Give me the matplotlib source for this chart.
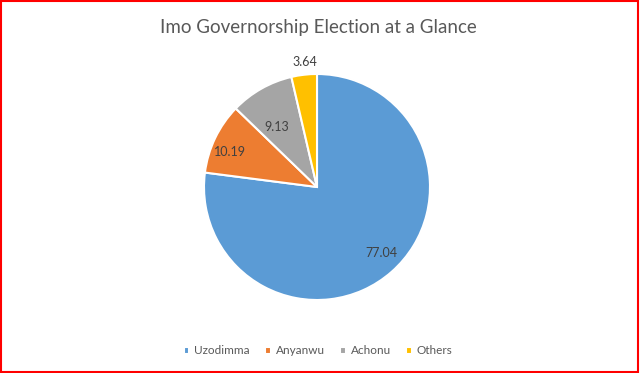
import numpy as np
import matplotlib.pyplot as plt
from matplotlib.patches import Rectangle

# Imo governorship election, share of votes (%)
candidates = ["Uzodimma", "Anyanwu", "Achonu", "Others"]
shares = [77.04, 10.19, 9.13, 3.64]
colors = ["#5B9BD5", "#ED7D31", "#A5A5A5", "#FFC000"]
label_dist = [0.82, 0.83, 0.64, 1.11]
label_shift = [3, 4, 4, -1]  # degrees, excel "best fit" placement

plt.rcParams['font.family'] = ['Lato', 'DejaVu Sans']

fig = plt.figure(figsize=(6.4, 3.73), dpi=100)
ax = fig.add_axes([204 / 640, 73 / 373, 226 / 640, 226 / 373])

wedges, _ = ax.pie(shares, colors=colors, startangle=90, counterclock=False,
                   radius=1.0, wedgeprops=dict(edgecolor="white", linewidth=1.5))
ax.set_xlim(-1, 1)
ax.set_ylim(-1, 1)
ax.set_aspect("equal")
ax.axis("off")

for w, val, d, s in zip(wedges, shares, label_dist, label_shift):
    mid = np.deg2rad((w.theta1 + w.theta2) / 2 + s)
    ax.text(d * np.cos(mid), d * np.sin(mid), f"{val:.2f}", ha="center", va="center",
            fontsize=9, color="#404040")

fig.text(0.497, 1 - 27 / 373, "Imo Governorship Election at a Glance", ha="center", va="center",
         fontsize=13.5, color="#595959")

leg = fig.legend(wedges, candidates, loc="center", bbox_to_anchor=(0.497, 1 - 351 / 373),
                 ncol=4, frameon=False, fontsize=8.5, handlelength=0.5, handleheight=0.5,
                 handletextpad=0.4, columnspacing=1.3)
for t in leg.get_texts():
    t.set_color("#595959")

fig.patches.append(Rectangle((0.001, 0.003), 0.996, 0.994, transform=fig.transFigure,
                             fill=False, edgecolor="red", linewidth=1.5))

fig.savefig("out.png", dpi=100)
